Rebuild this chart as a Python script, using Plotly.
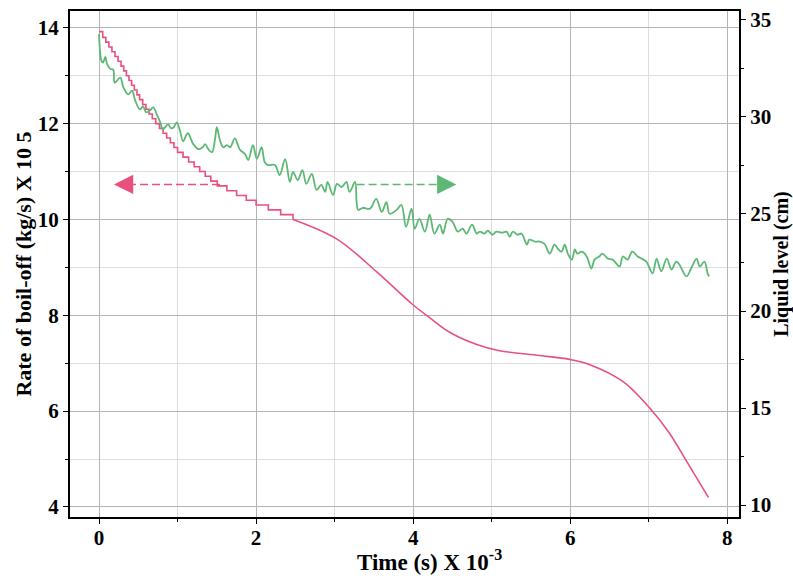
import plotly.graph_objects as go

# ---- Data ----
# Boil-off rate (left axis), stepped early part: times where the value drops to each level
boil_step_time = [0.0, 0.047, 0.086, 0.125, 0.164, 0.203, 0.242, 0.28, 0.314, 0.348, 0.381,
                  0.415, 0.449, 0.483, 0.516, 0.556, 0.597, 0.637, 0.678, 0.722, 0.769,
                  0.815, 0.861, 0.908, 0.954, 1.0, 1.07, 1.141, 1.211, 1.282, 1.352, 1.423,
                  1.505, 1.628, 1.752, 1.875, 2.0, 2.156, 2.313, 2.47]
boil_step_rate = [13.92, 13.8, 13.7, 13.6, 13.5, 13.4, 13.3, 13.2, 13.1, 13.0, 12.9,
                  12.8, 12.7, 12.6, 12.5, 12.4, 12.3, 12.2, 12.1, 12.0, 11.9,
                  11.8, 11.7, 11.6, 11.5, 11.4, 11.3, 11.2, 11.1, 11.0, 10.9, 10.8,
                  10.7, 10.6, 10.5, 10.4, 10.3, 10.2, 10.1, 10.0]
# Boil-off rate, smooth later part
boil_time = [2.47, 3.03, 3.54, 3.99, 4.21, 4.47, 4.81, 5.10, 5.61, 5.99, 6.25, 6.67,
             7.01, 7.26, 7.48, 7.76]
boil_rate = [10.0, 9.59, 8.9, 8.23, 7.95, 7.64, 7.39, 7.26, 7.16, 7.08, 6.97, 6.62,
             6.07, 5.55, 4.96, 4.2]

# Liquid level (right axis)
level_time = [0.0, 0.03, 0.05, 0.08, 0.10, 0.14, 0.18, 0.20, 0.27, 0.31, 0.37, 0.42, 0.46,
              0.52, 0.56, 0.60, 0.65, 0.69, 0.74, 0.78, 0.81, 0.85, 0.88, 0.92, 0.95, 0.99,
              1.03, 1.07, 1.13, 1.20, 1.27, 1.32, 1.35, 1.40, 1.44, 1.48, 1.50, 1.54, 1.58,
              1.63, 1.67, 1.73, 1.79, 1.86, 1.90, 1.96, 2.01, 2.07, 2.11, 2.15, 2.24, 2.30,
              2.37, 2.43, 2.47, 2.53, 2.59, 2.64, 2.71, 2.77, 2.83, 2.88, 2.91, 2.98, 3.03,
              3.09, 3.15, 3.19, 3.26, 3.28, 3.30, 3.36, 3.45, 3.53, 3.60, 3.66, 3.70, 3.79,
              3.85, 3.91, 3.98, 4.02, 4.08, 4.15, 4.21, 4.27, 4.34, 4.38, 4.44, 4.50, 4.57,
              4.63, 4.68, 4.75, 4.81, 4.85, 4.91, 4.95, 5.01, 5.06, 5.13, 5.19, 5.23, 5.27,
              5.33, 5.38, 5.45, 5.48, 5.55, 5.61, 5.67, 5.74, 5.80, 5.84, 5.89, 5.93, 5.97,
              6.02, 6.06, 6.09, 6.15, 6.21, 6.27, 6.31, 6.37, 6.41, 6.48, 6.54, 6.63, 6.67,
              6.73, 6.79, 6.86, 6.91, 6.97, 7.05, 7.10, 7.16, 7.23, 7.29, 7.35, 7.39, 7.48,
              7.54, 7.61, 7.65, 7.71, 7.75, 7.77]
level_cm = [34.28, 32.90, 32.80, 33.10, 32.75, 32.49, 32.44, 31.77, 32.03, 31.52, 31.16, 31.36,
            30.85, 30.39, 30.54, 30.24, 30.34, 30.49, 30.08, 29.72, 29.36, 29.51, 29.62, 29.41,
            29.47, 29.72, 29.31, 28.75, 29.16, 28.60, 28.34, 28.44, 28.60, 28.29, 28.19, 28.95,
            29.47, 28.80, 28.44, 28.55, 28.44, 28.90, 28.34, 28.08, 27.78, 28.55, 27.84, 28.44,
            27.67, 27.52, 27.52, 27.01, 27.83, 26.65, 27.17, 26.75, 27.26, 26.55, 27.06, 26.24,
            26.50, 26.14, 26.65, 25.98, 26.55, 26.39, 26.65, 26.14, 26.65, 25.63, 25.21, 25.32,
            25.27, 25.78, 25.11, 25.61, 25.01, 25.21, 25.47, 24.34, 25.27, 24.24, 24.75, 24.09,
            24.96, 23.99, 24.45, 23.99, 24.75, 24.60, 24.09, 24.24, 23.99, 24.45, 23.99, 24.09,
            23.99, 24.14, 23.93, 24.09, 24.04, 24.09, 23.83, 24.09, 23.93, 23.99, 23.42, 23.68,
            23.58, 23.58, 23.47, 22.96, 23.42, 23.22, 23.06, 23.42, 22.96, 22.65, 23.17, 22.96,
            23.06, 22.81, 22.19, 22.65, 22.81, 22.96, 22.70, 22.65, 22.30, 22.81, 22.65, 23.06,
            22.81, 22.70, 22.55, 21.94, 22.70, 22.04, 22.70, 22.14, 22.55, 22.40, 21.78, 22.19,
            22.70, 22.30, 22.55, 21.94, 21.78]

x_ticks = [0, 2, 4, 6, 8]
left_ticks = [4, 6, 8, 10, 12, 14]
right_ticks = [10, 15, 20, 25, 30, 35]

PINK = "#e8507e"
GREEN = "#5cb874"
FONT = "Liberation Serif"

fig = go.Figure()
fig.add_trace(go.Scatter(x=boil_step_time, y=boil_step_rate, mode="lines",
                         line=dict(color=PINK, width=1.6, shape="hv"), yaxis="y",
                         showlegend=False))
fig.add_trace(go.Scatter(x=boil_time, y=boil_rate, mode="lines",
                         line=dict(color=PINK, width=1.6, shape="spline", smoothing=1.0),
                         yaxis="y", showlegend=False))
fig.add_trace(go.Scatter(x=level_time, y=level_cm, mode="lines",
                         line=dict(color=GREEN, width=1.8, shape="spline", smoothing=1.0),
                         yaxis="y2", showlegend=False))

# Direction arrows (dashed shafts + arrowheads)
arrow_y = 10.73
fig.add_shape(type="line", xref="x", yref="y", x0=1.54, x1=0.36, y0=arrow_y, y1=arrow_y,
              line=dict(color=PINK, width=1.6, dash="8px,4px"))
fig.add_annotation(x=0.19, y=arrow_y, xref="x", yref="y", text="", showarrow=True,
                   ax=20, ay=0, arrowhead=2, arrowsize=2.4, arrowwidth=1.6, arrowcolor=PINK)
fig.add_shape(type="line", xref="x", yref="y", x0=3.28, x1=4.38, y0=arrow_y, y1=arrow_y,
              line=dict(color=GREEN, width=1.6, dash="8px,4px"))
fig.add_annotation(x=4.55, y=arrow_y, xref="x", yref="y", text="", showarrow=True,
                   ax=-20, ay=0, arrowhead=2, arrowsize=2.4, arrowwidth=1.6, arrowcolor=GREEN)

# X-axis title (placed slightly right of centre, as in the reference)
fig.add_annotation(x=0.537, y=-0.086, xref="paper", yref="paper", showarrow=False,
                   text="Time (s) X 10<sup>-3</sup>", xanchor="center", yanchor="middle",
                   font=dict(family=FONT, size=23, color="black", weight="bold"))

tickfont = dict(family=FONT, size=21, color="black", weight="bold")

fig.update_layout(
    width=793, height=576,
    margin=dict(l=70, r=53, t=8, b=59),
    paper_bgcolor="white", plot_bgcolor="white",
    xaxis=dict(range=[-0.37, 8.15], tickvals=x_ticks, ticks="outside", ticklen=5,
               tickcolor="black", showgrid=True, gridcolor="#b4b4b4", gridwidth=1,
               minor=dict(dtick=1, tick0=0, showgrid=True, gridcolor="#dddddd",
                          ticks="outside", ticklen=3, tickcolor="black"),
               showline=True, linecolor="black", linewidth=2, mirror=True, zeroline=False,
               tickfont=tickfont, ticklabelstandoff=-4),
    yaxis=dict(range=[3.79, 14.35], tickvals=left_ticks, ticks="outside", ticklen=5,
               tickcolor="black", showgrid=True, gridcolor="#b4b4b4", gridwidth=1,
               minor=dict(dtick=1, tick0=0, showgrid=True, gridcolor="#dddddd",
                          ticks="outside", ticklen=3, tickcolor="black"),
               showline=True, linecolor="black", linewidth=2, mirror=True, zeroline=False,
               tickfont=tickfont,
               title=dict(text="Rate of boil-off (kg/s) X 10 5",
                          font=dict(family=FONT, size=22, color="black", weight="bold"),
                          standoff=0)),
    yaxis2=dict(range=[9.385, 35.46], tickvals=right_ticks, overlaying="y", side="right",
                ticks="outside", ticklen=5, tickcolor="black", showgrid=False,
                minor=dict(dtick=2.5, tick0=0, ticks="outside", ticklen=3, tickcolor="black"),
                showline=True, linecolor="black", linewidth=2, zeroline=False,
                tickfont=tickfont,
                title=dict(text="Liquid level (cm)", font=dict(family=FONT, size=20,
                                                               color="black", weight="bold"),
                           standoff=0)),
)

fig.write_html("out.html", config={"displayModeBar": False},
               post_script="document.body.style.margin='0';")
